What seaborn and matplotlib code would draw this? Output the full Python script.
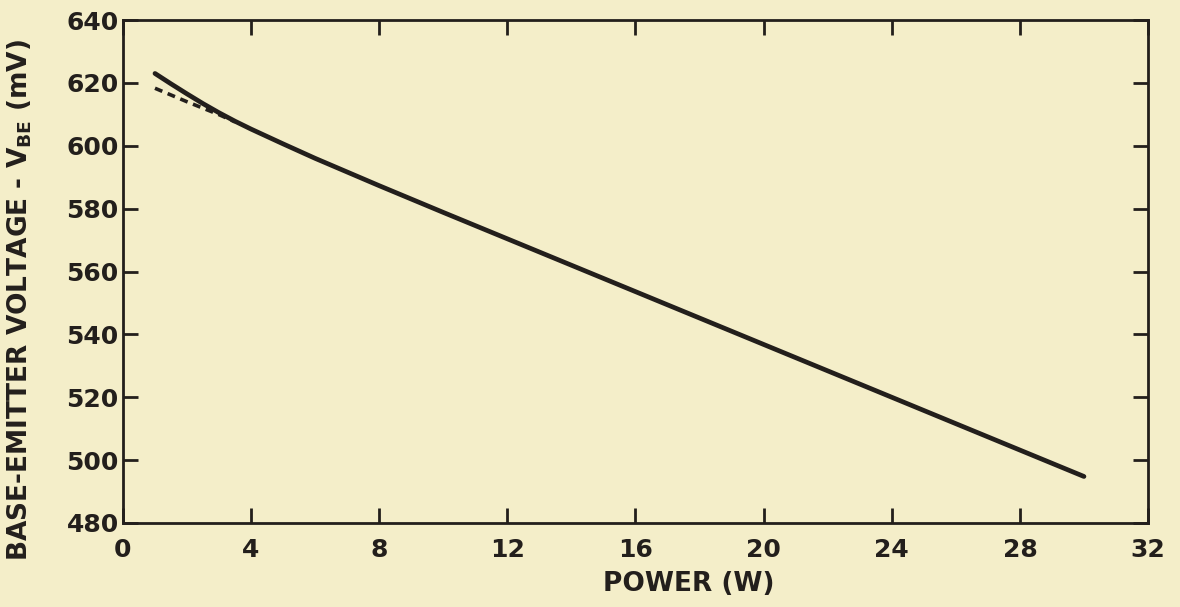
import matplotlib
matplotlib.use("Agg")
import matplotlib.pyplot as plt
import seaborn as sns
import pandas as pd

# Measured curve (solid)
power_w = [1, 1.5, 2, 2.5, 3, 3.5, 4, 5, 6, 8, 10, 12, 14, 16, 18, 20, 22, 24, 26, 28, 30]
vbe_mv = [623.0, 619.7, 616.5, 613.4, 610.5, 607.8, 605.3, 600.6, 596.0, 587.3, 578.8,
          570.4, 562.0, 553.6, 545.2, 536.8, 528.4, 520.0, 511.6, 503.2, 494.8]

# Linear extrapolation (dashed)
power_dash = [1, 2, 3, 3.5]
vbe_dash = [618.3, 614.0, 609.9, 607.6]

x_ticks = [0, 4, 8, 12, 16, 20, 24, 28, 32]
y_ticks = [480, 500, 520, 540, 560, 580, 600, 620, 640]

bg = "#f4eec9"
ink = "#231f1c"

sns.set_theme(style="ticks")
plt.rcParams["font.family"] = ["DejaVu Sans"]
plt.rcParams["mathtext.default"] = "regular"

fig = plt.figure(figsize=(11.8, 6.07), dpi=100, facecolor=bg)
ax = fig.add_axes([0.1042, 0.1384, 0.8687, 0.8286])
ax.set_facecolor(bg)

df_solid = pd.DataFrame({"power": power_w, "vbe": vbe_mv})
df_dash = pd.DataFrame({"power": power_dash, "vbe": vbe_dash})

sns.lineplot(data=df_solid, x="power", y="vbe", ax=ax, color=ink, linewidth=3.4,
             solid_capstyle="round", solid_joinstyle="round")
sns.lineplot(data=df_dash, x="power", y="vbe", ax=ax, color=ink, linewidth=2.6,
             linestyle=(0, (2.2, 1.6)))

ax.set_xlim(0, 32)
ax.set_ylim(480, 640)
ax.set_xticks(x_ticks)
ax.set_yticks(y_ticks)
ax.set_xticklabels([str(t) for t in x_ticks])
ax.set_yticklabels([str(t) for t in y_ticks])

for s in ax.spines.values():
    s.set_visible(True)
    s.set_linewidth(2.0)
    s.set_color(ink)

ax.tick_params(axis="both", which="major", direction="in", length=11, width=2,
               color=ink, labelcolor=ink, labelsize=18, top=True, right=True)
ax.tick_params(axis="y", pad=3)
ax.tick_params(axis="x", pad=11)
for lab in ax.get_xticklabels() + ax.get_yticklabels():
    lab.set_fontweight("bold")

ax.set_xlabel("POWER (W)", fontsize=19, fontweight="bold", color=ink)
ax.set_ylabel(r"BASE-EMITTER VOLTAGE - V$_{\mathbf{BE}}$ (mV)", fontsize=19,
              fontweight="bold", color=ink)
ax.xaxis.set_label_coords(0.552, -0.095)
ax.yaxis.set_label_coords(-0.087, 0.443)

fig.savefig("out.png", dpi=100, facecolor=bg)
